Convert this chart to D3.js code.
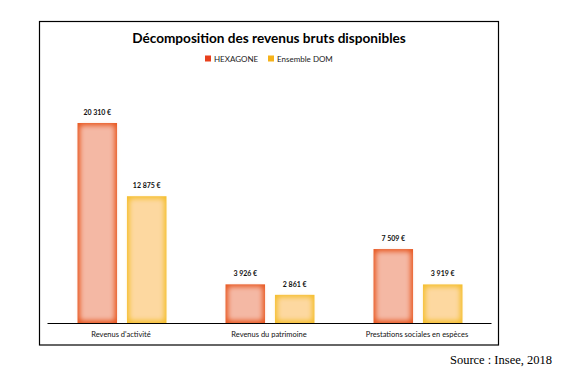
<!DOCTYPE html>
<html>
<head>
<meta charset="utf-8">
<script src="https://cdn.jsdelivr.net/npm/d3@7"></script>
<style>
  body { margin: 0; background: #fff; }
  svg { display: block; }
</style>
</head>
<body>
<div id="chart"></div>
<script>
// Décomposition des revenus bruts disponibles
const categories = ["Revenus d'activité", "Revenus du patrimoine", "Prestations sociales en espèces"];
const seriesNames = ["HEXAGONE", "Ensemble DOM"];
const hexagone = [20310, 3926, 7509];
const dom = [12875, 2861, 3919];
const seriesValues = [hexagone, dom];
const valueLabels = [["20 310 €", "3 926 €", "7 509 €"], ["12 875 €", "2 861 €", "3 919 €"]];

const W = 582, H = 384;
const edgeColors = ["#e85a24", "#f5bf30"];
const innerColors = ["#f4b8a4", "#fdd8a0"];
const legendColors = ["#e8401c", "#f5b21a"];

const svg = d3.select("#chart").append("svg")
  .attr("width", W).attr("height", H);

const defs = svg.append("defs");
defs.append("filter").attr("id", "soft")
  .attr("x", "-20%").attr("y", "-20%").attr("width", "140%").attr("height", "140%")
  .append("feGaussianBlur").attr("stdDeviation", 2.6);

// frame
svg.append("rect")
  .attr("x", 39.5).attr("y", 21.5).attr("width", 459).attr("height", 323.5)
  .attr("fill", "#fff").attr("stroke", "#000").attr("stroke-width", 1.2);

svg.append("text")
  .attr("x", 269).attr("y", 43)
  .attr("text-anchor", "middle")
  .attr("font-family", "Lato, 'Open Sans', sans-serif")
  .attr("font-weight", "bold").attr("font-size", 13.6)
  .text("Décomposition des revenus bruts disponibles");

// legend
const legend = svg.append("g").attr("font-family", "Lato, sans-serif").attr("font-size", 8);
const legendX = [205, 268];
seriesNames.forEach((name, i) => {
  legend.append("rect").attr("x", legendX[i]).attr("y", 55.5).attr("width", 6).attr("height", 6)
    .attr("fill", legendColors[i]);
  legend.append("text").attr("x", legendX[i] + 9).attr("y", 61.5).attr("fill", "#222").text(name);
});

const baseY = 323;
const x0 = d3.scaleBand().domain(categories).range([47, 491]).paddingInner(0).paddingOuter(0);
const x1 = d3.scaleBand().domain(seriesNames).range([30.5, 119.5]).paddingInner(0.2);
const y = d3.scaleLinear().domain([0, 25000]).range([baseY, baseY - 246.2]);

const groups = svg.selectAll(".grp")
  .data(categories)
  .join("g").attr("class", "grp")
  .attr("transform", d => `translate(${x0(d)},0)`);

groups.each(function (cat, ci) {
  const g = d3.select(this);
  seriesNames.forEach((s, si) => {
    const v = seriesValues[si][ci];
    const bx = x1(s), bw = x1.bandwidth(), by = y(v), bh = baseY - y(v);
    g.append("rect").attr("x", bx).attr("y", by).attr("width", bw).attr("height", bh)
      .attr("fill", edgeColors[si]);
    g.append("rect").attr("x", bx + 2.5).attr("y", by + 2.5).attr("width", bw - 5).attr("height", Math.max(0, bh - 5))
      .attr("rx", 3)
      .attr("fill", innerColors[si]).attr("filter", "url(#soft)");
    g.append("text")
      .attr("x", bx + bw / 2).attr("y", by - 8)
      .attr("text-anchor", "middle")
      .attr("font-family", "Lato, sans-serif").attr("font-size", 7)
      .attr("font-weight", "bold")
      .attr("fill", "#111")
      .text(valueLabels[si][ci]);
  });
});

// axis
const axis = svg.append("g").attr("transform", `translate(0,${baseY})`)
  .call(d3.axisBottom(x0).tickSize(0).tickPadding(9));
axis.select(".domain").attr("stroke", "#000").attr("stroke-width", 1.2);
axis.selectAll("text").attr("font-family", "Lato, sans-serif").attr("font-size", 7.5).attr("fill", "#111");

svg.append("text")
  .attr("x", 552).attr("y", 364)
  .attr("text-anchor", "end")
  .attr("font-family", "'Liberation Serif', serif").attr("font-size", 12.5)
  .text("Source : Insee, 2018");
</script>
</body>
</html>
